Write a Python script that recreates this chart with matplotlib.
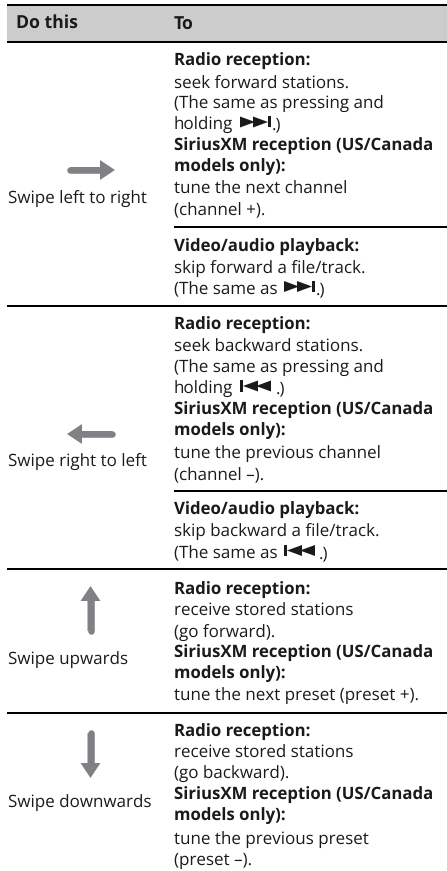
import matplotlib
matplotlib.use('Agg')
import matplotlib.pyplot as plt

plt.rcParams['text.hinting'] = 'none'
plt.rcParams['text.hinting_factor'] = 8

W, H = 447, 871
font = 'Open Sans'
ink = '#1a1a1a'
arrow_col = '#808085'
size = 12.25
bold_size = 12.05
text_dy = 2

header_labels = ['Do this', 'To']
header_x = [16, 174]
header_y = [28, 30]

swipe_labels = ['Swipe left to right', 'Swipe right to left', 'Swipe upwards', 'Swipe downwards']
swipe_y = [200.5, 464, 661.5, 805]

# arrow tail and tip for each swipe
arrow_start = [(70, 170), (112, 434), (90.5, 631), (90.5, 733)]
arrow_end = [(115, 170), (67, 434), (90.5, 586), (90.5, 778)]

action_lines = [
    'Radio reception:', 'seek forward stations.', '(The same as pressing and', 'holding',
    'SiriusXM reception (US/Canada', 'models only):', 'tune the next channel', '(channel +).',
    'Video/audio playback:', 'skip forward a file/track.', '(The same as',
    'Radio reception:', 'seek backward stations.', '(The same as pressing and', 'holding',
    'SiriusXM reception (US/Canada', 'models only):', 'tune the previous channel', '(channel \u2013).',
    'Video/audio playback:', 'skip backward a file/track.', '(The same as',
    'Radio reception:', 'receive stored stations', '(go forward).',
    'SiriusXM reception (US/Canada', 'models only):', 'tune the next preset (preset +).',
    'Radio reception:', 'receive stored stations', '(go backward).',
    'SiriusXM reception (US/Canada', 'models only):', 'tune the previous preset', '(preset \u2013).',
]
action_y = [
    64, 85.5, 106.5, 127.5, 149, 170, 191.5, 213,
    250, 271, 292,
    328, 349.5, 370.5, 391.5, 413, 434, 456, 478,
    513, 534, 556,
    593, 613.5, 634.5, 656, 677, 698,
    735, 756, 777, 798, 819, 841.5, 862.5,
]
bold_starts = ('Radio', 'Sirius', 'models', 'Video')

# full width rules and rules that only span the right column
wide_rules = [305.7, 569.3, 712.7]
narrow_rules = [226.7, 490.7]

# transport glyphs: left edge x, baseline y, direction, closing text x
glyph_x = [240, 284, 240, 284]
glyph_y = [127.5, 292, 391.5, 556]
glyph_dir = [1, 1, -1, -1]
glyph_tail_x = [272, 316, 275.5, 319]


def draw_glyph(ax, x, y, direction):
    """Draws the skip forward or backward sign, 31 px wide"""
    h = 11
    if direction > 0:
        tris = [(x, x + 15), (x + 13, x + 28)]
        bar = x + 28
    else:
        tris = [(x + 31, x + 16), (x + 18, x + 3)]
        bar = x
    for a, b in tris:
        ax.fill([a, b, a], [y, y - h / 2, y - h], color=ink, lw=0)
    ax.fill([bar, bar + 3, bar + 3, bar], [y, y, y - h, y - h], color=ink, lw=0)


fig = plt.figure(figsize=(W / 100, H / 100), dpi=100)
ax = fig.add_axes([0, 0, 1, 1])
ax.set_xlim(0, W)
ax.set_ylim(H, 0)
ax.axis('off')

ax.fill([7, W, W, 7], [5, 5, 41, 41], color='#cccccc', lw=0)
for y in [5, 41.7] + wide_rules:
    ax.plot([7, W], [y, y], color='black', lw=1.44, solid_capstyle='butt')
for y in narrow_rules:
    ax.plot([174, W], [y, y], color='black', lw=1.44, solid_capstyle='butt')

for x, y, s in zip(header_x, header_y, header_labels):
    ax.text(x, y, s, family=font, weight='bold', fontsize=12.7, color=ink, va='baseline')

for y, s in zip(swipe_y, swipe_labels):
    ax.text(8, y + text_dy, s, family=font, fontsize=size, color=ink, va='baseline')

for y, s in zip(action_y, action_lines):
    if s.startswith(bold_starts):
        ax.text(174, y + text_dy, s, family=font, weight='bold', fontsize=bold_size, color=ink, va='baseline')
    else:
        ax.text(174, y + text_dy, s, family=font, fontsize=size, color=ink, va='baseline')

for x, y, d, tx in zip(glyph_x, glyph_y, glyph_dir, glyph_tail_x):
    draw_glyph(ax, x, y, d)
    ax.text(tx, y + text_dy, '.)', family=font, fontsize=size, color=ink, va='baseline')

for start, end in zip(arrow_start, arrow_end):
    ax.annotate('', xy=end, xytext=start,
                arrowprops=dict(arrowstyle='simple,head_length=0.75,head_width=1.0,tail_width=0.3',
                                color=arrow_col, lw=0, shrinkA=0, shrinkB=0, mutation_scale=14.4))
    # rounded tail, stops at the head base
    ax.plot([start[0], start[0] + (end[0] - start[0]) * 0.68],
            [start[1], start[1] + (end[1] - start[1]) * 0.68],
            color=arrow_col, lw=4.7, solid_capstyle='round')

fig.savefig('out.png', dpi=100)
